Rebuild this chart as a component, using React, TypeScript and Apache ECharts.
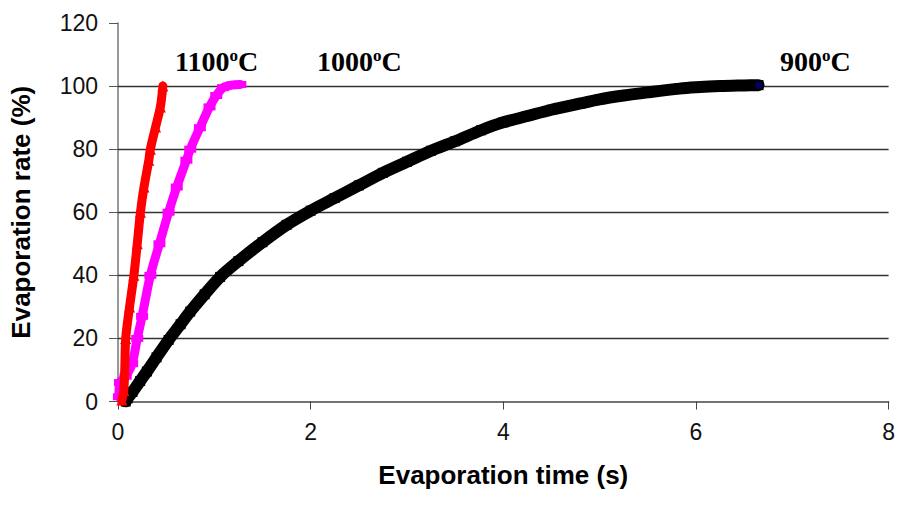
import React, { useEffect, useRef } from "react";
import * as echarts from "echarts";

// 900°C series (time s, evaporation rate %)
const t900 = [0.08, 0.1, 0.15, 0.23, 0.3, 0.4, 0.525, 0.65, 0.75, 0.9, 1.06, 1.25, 1.5, 1.75, 2.0, 2.25, 2.5, 2.75, 3.0, 3.25, 3.5, 3.77, 4.0, 4.25, 4.5, 4.8, 5.0, 5.25, 5.5, 5.83, 6.0, 6.25, 6.5, 6.65];
const r900 = [0, 1, 3, 6.5, 9.5, 14, 19.5, 24.5, 28.5, 34, 39.5, 44.5, 50.5, 56, 60.5, 64.5, 68.5, 72.5, 76, 79.5, 82.5, 86, 88.5, 90.5, 92.5, 94.5, 95.8, 97, 98, 99.2, 99.6, 100, 100.2, 100.3];

// 1000°C series
const t1000 = [0.01, 0.02, 0.08, 0.147, 0.2, 0.25, 0.336, 0.43, 0.525, 0.61, 0.71, 0.75, 0.85, 0.95, 1.02, 1.09, 1.18, 1.27];
const r1000 = [1.5, 6, 8, 12, 20, 27, 40, 50, 60, 68, 76.5, 80, 86.8, 93.4, 97, 99.5, 100.3, 100.5];

// 1100°C series
const t1100 = [0.04, 0.06, 0.07, 0.08, 0.12, 0.165, 0.2, 0.233, 0.27, 0.32, 0.336, 0.39, 0.44, 0.466];
const r1100 = [0.5, 3.5, 10, 20, 30, 40, 50, 60, 68, 76.5, 80, 87, 93.4, 100];

const gridValues = [20, 40, 60, 80, 100];
const seriesLabels = ["1100", "1000", "900"];

const pairs = (xs: number[], ys: number[]) => xs.map((x, i) => [x, ys[i]]);

export default function App() {
  const ref = useRef<HTMLDivElement>(null);
  useEffect(() => {
    if (!ref.current) return;
    const chart = echarts.init(ref.current, undefined, { renderer: "svg" });
    const labelText = (s: string) => `{n|${s}}{s|o}{n|C}`;
    const rich = {
      n: { fontFamily: "Liberation Serif", fontWeight: "bold", fontSize: 28, fill: "#000" },
      s: { fontFamily: "Liberation Serif", fontWeight: "bold", fontSize: 17, fill: "#000", verticalAlign: "top" },
    };
    chart.setOption({
      animation: false,
      backgroundColor: "#fff",
      grid: { left: 114, right: 7, top: 23, bottom: 104.5, containLabel: false },
      xAxis: {
        type: "value",
        min: 0,
        max: 8,
        interval: 2,
        name: "Evaporation time (s)",
        nameLocation: "middle",
        nameGap: 60,
        nameTextStyle: { fontFamily: "Liberation Sans", fontWeight: "bold", fontSize: 26, color: "#000" },
        axisLine: { show: true, onZero: false, lineStyle: { color: "#444", width: 1.5 } },
        axisTick: { show: true, inside: false, length: 8, lineStyle: { color: "#444" } },
        axisLabel: { margin: 19, fontFamily: "Liberation Sans", fontSize: 23, color: "#111" },
        splitLine: { show: false },
      },
      yAxis: {
        type: "value",
        min: 0,
        max: 120,
        interval: 20,
        name: "Evaporation rate (%)",
        nameLocation: "middle",
        nameRotate: 90,
        nameGap: 84,
        nameTextStyle: { fontFamily: "Liberation Sans", fontWeight: "bold", fontSize: 26, color: "#000" },
        axisLine: { show: true, lineStyle: { color: "#777", width: 1.5 } },
        axisTick: { show: true, inside: false, length: 9, lineStyle: { color: "#555" } },
        axisLabel: { margin: 20, fontFamily: "Liberation Sans", fontSize: 23, color: "#111" },
        splitLine: { show: false },
      },
      series: [
        {
          name: "900",
          type: "line",
          data: pairs(t900, r900),
          smooth: 0.3,
          symbol: "rect",
          symbolSize: 10,
          itemStyle: { color: "#000" },
          lineStyle: { color: "#000", width: 12, cap: "round", join: "round" },
          z: 3,
          markLine: {
            silent: true,
            symbol: "none",
            label: { show: false },
            lineStyle: { color: "#333", width: 1.3, type: "solid" },
            data: gridValues.map((v) => ({ yAxis: v })),
            z: 1,
          },
        },
        {
          name: "900end",
          type: "scatter",
          data: [[t900[t900.length - 1], r900[r900.length - 1]]],
          symbol: "circle",
          symbolSize: 7,
          itemStyle: { color: "#000080" },
          z: 4,
        },
        {
          name: "1000",
          type: "line",
          data: pairs(t1000, r1000),
          smooth: 0.3,
          symbol: "rect",
          symbolSize: [12, 7],
          itemStyle: { color: "#FF00FF" },
          lineStyle: { color: "#FF00FF", width: 9, cap: "round", join: "round" },
          z: 4,
        },
        {
          name: "1100",
          type: "line",
          data: pairs(t1100, r1100),
          smooth: 0.3,
          symbol: "triangle",
          symbolSize: 11,
          itemStyle: { color: "#FF0000" },
          lineStyle: { color: "#FF0000", width: 9, cap: "round", join: "round" },
          z: 5,
        },
      ],
      graphic: [
        { type: "text", left: 175, top: 47, style: { text: labelText(seriesLabels[0]), rich } },
        { type: "text", left: 317, top: 47, style: { text: labelText(seriesLabels[1]), rich } },
        { type: "text", left: 780, top: 47, style: { text: labelText(seriesLabels[2]), rich } },
      ],
    });
    return () => chart.dispose();
  }, []);
  return <div ref={ref} style={{ width: 898, height: 506, position: "absolute", left: 0, top: 0 }} />;
}
